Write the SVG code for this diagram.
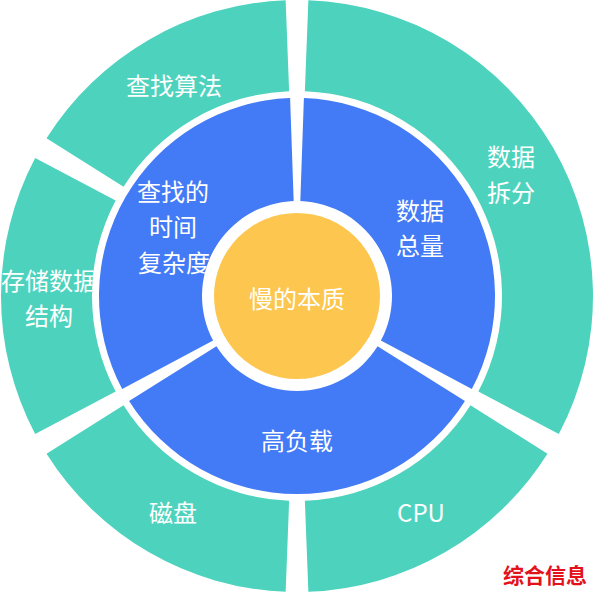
<svg xmlns="http://www.w3.org/2000/svg" xmlns:xlink="http://www.w3.org/1999/xlink" width="594" height="594" viewBox="0 0 594 594">
  <style>
    .outer { fill: #4dd3bd; }
    .inner { fill: #437af6; }
    .core { fill: #fdc64f; }
    .lbl { font-family: "Noto Sans CJK SC", "Noto Sans", sans-serif; font-size: 24px; fill: #ffffff; text-anchor: middle; }
    .mark { font-family: "Noto Sans CJK SC", sans-serif; font-size: 21px; font-weight: bold; fill: #e3121a; text-anchor: middle; }
  </style>
  <defs>
    <clipPath id="clip-storage"><use href="#p-storage" xlink:href="#p-storage"/></clipPath>
    <clipPath id="clip-complexity"><use href="#p-complexity" xlink:href="#p-complexity"/></clipPath>
  </defs>
  <rect x="0" y="0" width="594" height="594" fill="#ffffff"/>

  <!-- outer ring -->
  <g id="node-split">
    <path class="outer" d="M 308.36 0.22 A 296 296 0 0 1 558.84 434.05 L 478.34 391.61 A 205 205 0 0 0 304.87 91.15 Z"/>
    <text class="lbl" x="511" y="166">数据</text>
    <text class="lbl" x="511" y="202">拆分</text>
  </g>
  <g id="node-cpu">
    <path class="outer" d="M 547.47 453.73 A 296 296 0 0 1 308.36 591.78 L 304.87 500.85 A 205 205 0 0 0 470.47 405.24 Z"/>
    <text class="lbl" x="421" y="522">CPU</text>
  </g>
  <g id="node-disk">
    <path class="outer" d="M 285.64 591.78 A 296 296 0 0 1 46.53 453.73 L 123.53 405.24 A 205 205 0 0 0 289.13 500.85 Z"/>
    <text class="lbl" x="173" y="522">磁盘</text>
  </g>
  <g id="node-storage">
    <path id="p-storage" class="outer" d="M 35.16 434.05 A 296 296 0 0 1 35.16 157.95 L 115.66 200.39 A 205 205 0 0 0 115.66 391.61 Z"/>
    <g clip-path="url(#clip-storage)">
      <text class="lbl" x="49" y="290">存储数据</text>
      <text class="lbl" x="49" y="325">结构</text>
    </g>
  </g>
  <g id="node-search-algo">
    <path class="outer" d="M 46.53 138.27 A 296 296 0 0 1 285.64 0.22 L 289.13 91.15 A 205 205 0 0 0 123.53 186.76 Z"/>
    <text class="lbl" x="174" y="95">查找算法</text>
  </g>

  <!-- inner ring -->
  <g id="node-volume">
    <path class="inner" d="M 303.91 98.12 A 198 198 0 0 1 471.82 388.96 L 380.88 340.60 A 95 95 0 0 0 300.32 201.06 Z"/>
    <text class="lbl" x="420" y="220">数据</text>
    <text class="lbl" x="420" y="255">总量</text>
  </g>
  <g id="node-load">
    <path class="inner" d="M 464.91 400.92 A 198 198 0 0 1 129.09 400.92 L 216.44 346.34 A 95 95 0 0 0 377.56 346.34 Z"/>
    <text class="lbl" x="297" y="450">高负载</text>
  </g>
  <g id="node-complexity">
    <path id="p-complexity" class="inner" d="M 122.18 388.96 A 198 198 0 0 1 290.09 98.12 L 293.68 201.06 A 95 95 0 0 0 213.12 340.60 Z"/>
    <g clip-path="url(#clip-complexity)">
      <text class="lbl" x="173" y="201">查找的</text>
      <text class="lbl" x="173" y="236">时间</text>
      <text class="lbl" x="174" y="272">复杂度</text>
    </g>
  </g>

  <!-- core -->
  <g id="node-core">
    <circle class="core" cx="297" cy="296" r="83"/>
    <text class="lbl" x="297" y="308">慢的本质</text>
  </g>

  <g id="connectors"></g>

  <text class="mark" x="545" y="583">综合信息</text>
</svg>
